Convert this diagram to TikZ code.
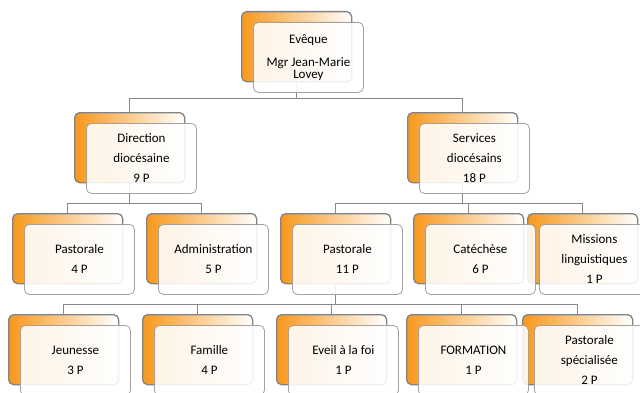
\documentclass[tikz,border=0pt]{standalone}
\usepackage{fontspec}
\setmainfont{Carlito}
\definecolor{boxorange}{HTML}{F7981D}
\definecolor{linegray}{HTML}{8A8A8A}
\tikzset{
  backbox/.style={minimum width=110pt,minimum height=70pt,rounded corners=5pt,
    draw=linegray!95!black,line width=1.3pt,left color=boxorange,right color=white,anchor=north west},
  frontbox/.style={minimum width=110pt,minimum height=70pt,rounded corners=5pt,
    draw=linegray!80,line width=0.8pt,fill=white,fill opacity=0.88,text opacity=1,
    anchor=north west,align=center,text=black,font=\fontsize{13}{20}\selectfont},
  conn/.style={draw=linegray,line width=0.8pt}
}
\begin{document}
\begin{tikzpicture}[x=1pt,y=1pt]
  \useasboundingbox (0,0) rectangle (640,392);
  \coordinate (bus1) at (0,294);
  \coordinate (bus2) at (0,189);
  \coordinate (bus3) at (0,88);
  % boxes behind the lines
  \node[backbox] (evb) at (241,381) {};
  \node[backbox] (dirb) at (74,280) {};
  \node[backbox] (srvb) at (407,280) {};
  \foreach \n/\x in {p4/12,adm/146,p11/280,cat/413,mis/527}
    \node[backbox] (\n b) at (\x,179) {};
  \foreach \n/\x in {jeu/8,fam/142,eve/276,for/406,spe/522}
    \node[backbox] (\n b) at (\x,78) {};
  % connectors
  \foreach \c in {dirb,srvb}
    \draw[conn] (evb.south) -- (evb.south |- bus1) -| (\c.north);
  \foreach \c in {p4b,admb}
    \draw[conn] (dirb.south) -- (dirb.south |- bus2) -| (\c.north);
  \foreach \c in {p11b,catb,misb}
    \draw[conn] (srvb.south) -- (srvb.south |- bus2) -| (\c.north);
  \foreach \c in {jeub,famb,eveb,forb,speb}
    \draw[conn] (p11b.south) -- (p11b.south |- bus3) -| (\c.north);
  % front boxes
  \node[frontbox,font=\fontsize{13}{12}\selectfont] (ev) at (253,370) {Evêque\\[11pt]Mgr Jean-Marie\\Lovey};
  \node[frontbox] (dir) at (86,269) {Direction\\diocésaine\\9 P};
  \node[frontbox] (srv) at (419,269) {Services\\diocésains\\18 P};
  \node[frontbox] (p4) at (24,168) {Pastorale\\4 P};
  \node[frontbox] (adm) at (158,168) {Administration\\5 P};
  \node[frontbox] (p11) at (292,168) {Pastorale\\11 P};
  \node[frontbox] (cat) at (425,168) {Catéchèse\\6 P};
  \node[frontbox] (mis) at (539,168) {Missions\\linguistiques\\1 P};
  \node[frontbox] (jeu) at (20,67) {Jeunesse\\3 P};
  \node[frontbox] (fam) at (154,67) {Famille\\4 P};
  \node[frontbox] (eve) at (288,67) {Eveil à la foi\\1 P};
  \node[frontbox] (for) at (418,67) {FORMATION\\1 P};
  \node[frontbox] (spe) at (534,67) {Pastorale\\spécialisée\\2 P};
\end{tikzpicture}
\end{document}
